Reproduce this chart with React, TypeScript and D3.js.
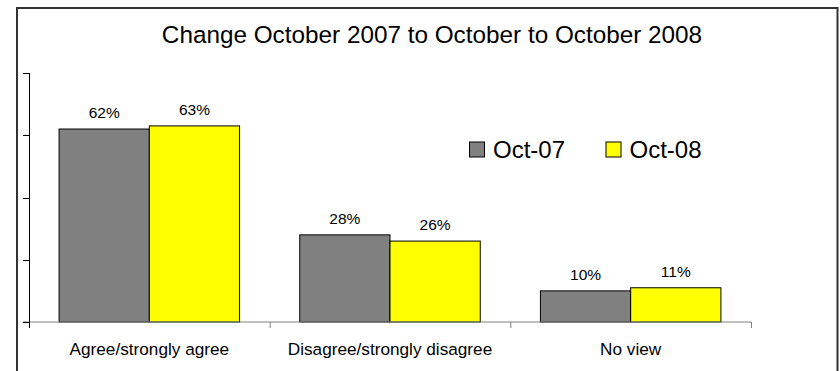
import React from "react";
import * as d3 from "d3";

const categories = ["Agree/strongly agree", "Disagree/strongly disagree", "No view"];
const seriesNames = ["Oct-07", "Oct-08"];
const oct07 = [62, 28, 10];
const oct08 = [63, 26, 11];
const seriesColors = ["#808080", "#FFFF00"];
const yTicks = [0, 20, 40, 60, 80];
const title = "Change October 2007 to October to October 2008";

const W = 840;
const H = 371;
const FONT = "'Liberation Sans', Arial, sans-serif";

export default function App() {
  const x = d3.scaleBand<string>().domain(categories).range([29, 751]).padding(0);
  const step = x.bandwidth();
  const inner = d3
    .scaleBand<string>()
    .domain(seriesNames)
    .range([step * 0.125, step * 0.875])
    .padding(0);
  const y = d3.scaleLinear().domain([0, 80]).range([322, 73]);
  const values = [oct07, oct08];

  return (
    <svg
      width={W}
      height={H}
      style={{ position: "absolute", left: 0, top: 0, background: "#fff" }}
      fontFamily={FONT}
    >
      <rect x={0} y={0} width={W} height={H} fill="#fff" />
      {/* frame */}
      <rect x={17} y={8} width={820.5} height={H + 20} fill="none" stroke="#333" strokeWidth={2} />
      <text x={432} y={43} textAnchor="middle" fontSize={24.3} fill="#000">
        {title}
      </text>

      {/* bars */}
      {categories.map((c, ci) =>
        seriesNames.map((s, si) => {
          const v = values[si][ci];
          const bx = (x(c) as number) + (inner(s) as number);
          const bw = inner.bandwidth();
          return (
            <g key={c + s}>
              <rect
                x={bx}
                y={y(v)}
                width={bw}
                height={y(0) - y(v)}
                fill={seriesColors[si]}
                stroke="#000"
                strokeWidth={1}
              />
              <text
                x={bx + bw / 2}
                y={y(v) - 11}
                textAnchor="middle"
                fontSize={15.5}
                fill="#000"
              >
                {v + "%"}
              </text>
            </g>
          );
        })
      )}

      {/* x axis */}
      <line x1={23} x2={751.5} y1={y(0)} y2={y(0)} stroke="#808080" strokeWidth={1} />
      {categories.map((c, i) => (
        <line
          key={"xt" + i}
          x1={(x(c) as number) + step + 0.5}
          x2={(x(c) as number) + step + 0.5}
          y1={y(0)}
          y2={y(0) + 6}
          stroke="#808080"
        />
      ))}
      {categories.map((c) => (
        <text
          key={"xl" + c}
          x={(x(c) as number) + step / 2}
          y={355}
          textAnchor="middle"
          fontSize={17.2}
          fill="#000"
        >
          {c}
        </text>
      ))}

      {/* y axis */}
      <line x1={29.5} x2={29.5} y1={y(80)} y2={y(0) + 6} stroke="#000" strokeWidth={1} />
      {yTicks.map((t) => (
        <line key={"yt" + t} x1={23} x2={29.5} y1={Math.round(y(t)) + 0.5} y2={Math.round(y(t)) + 0.5} stroke="#000" />
      ))}

      {/* legend */}
      {seriesNames.map((s, i) => {
        const lx = i === 0 ? 469.5 : 606;
        return (
          <g key={"lg" + s}>
            <rect x={lx} y={142} width={15} height={15} fill={seriesColors[i]} stroke="#000" strokeWidth={1} />
            <text x={lx + 23.5} y={157.5} fontSize={24} fill="#000">
              {s}
            </text>
          </g>
        );
      })}
    </svg>
  );
}
